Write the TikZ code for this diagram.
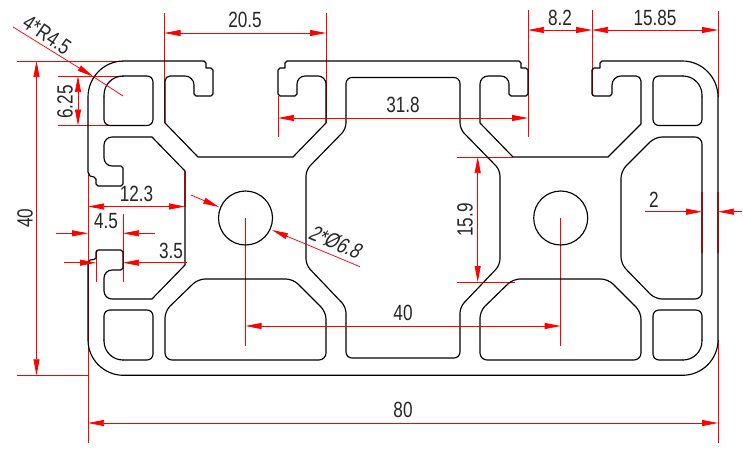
\documentclass[tikz,border=0pt]{standalone}
\usepackage{fontspec}
\setmainfont[FakeStretch=.78]{Liberation Sans}
\newfontfamily\slantfont[FakeStretch=.78,FakeSlant=.2]{Liberation Sans}
\usetikzlibrary{arrows.meta,calc}
\definecolor{dimred}{RGB}{255,0,0}
\definecolor{dimdark}{RGB}{140,20,20}
\newcommand\fil[3]{.. controls ($(#1)!.55!(#2)$) and ($(#3)!.55!(#2)$) .. (#3)}
\tikzset{
  prof/.style={draw=black,line width=1.15pt,line join=round,line cap=round},
  dimln/.style={draw=dimred,line width=.75pt},
  extln/.style={draw=dimred,line width=.75pt},
  extdark/.style={draw=dimdark,line width=1.15pt},
  both/.style={dimln,{Triangle[length=16pt,width=6pt,fill=dimred]}-{Triangle[length=16pt,width=6pt,fill=dimred]}},
  fwd/.style={dimln,-{Triangle[length=16pt,width=6pt,fill=dimred]}},
  lbl/.style={inner sep=0pt,font=\fontsize{22}{22}\selectfont,text=black!85},
  lblit/.style={inner sep=0pt,font=\slantfont\fontsize{22}{22}\selectfont,text=black!85}
}
\begin{document}
\begin{tikzpicture}[x=1pt,y=-1pt]
\useasboundingbox (0,0) rectangle (743,453);
% extension lines
\draw[extln] (17,61)--(123,61);
\draw[extln] (17,375.3)--(88,375.3);
\draw[extln] (58,76)--(123,76);
\draw[extln] (58,125.5)--(123,125.5);
\draw[extln] (164.5,13)--(164.5,123);
\draw[extln] (326,13)--(326,123);
\draw[extln] (278,96)--(278,137);
\draw[extln] (528,10)--(528,137);
\draw[extln] (592,10)--(592,96);
\draw[extln] (718,11)--(718,97);
\draw[extln] (457,157)--(513,157);
\draw[extln] (457,282)--(515,282);
\draw[extln] (123,214)--(123,282);
\draw[extln] (96,250)--(96,282);
\draw[extln] (88,174)--(88,443);
\draw[extln] (718,340)--(718,443);
\draw[extln] (245.5,218)--(245.5,345.5);
\draw[extln] (560.7,218)--(560.7,345.5);
% profile
\draw[prof] (88,97) \fil{88,97}{88,61}{123.5,61} -- (204,61) -- (206,63) -- (206,68) -- (211,68) -- (213,70) -- (213,94) -- (211,96) -- (196,96) -- (194,94) -- (194,85) \fil{194,85}{194,76}{185,76} -- (170,76) \fil{170,76}{165,76}{165,81} -- (165,123) -- (198,157) -- (293,157) -- (326,123) -- (326,84) \fil{326,84}{326,76}{318,76} -- (305,76) \fil{305,76}{297,76}{297,84} -- (297,94) -- (295,96) -- (280,96) -- (278,94) -- (278,70) -- (280,68) -- (285,68) -- (285,63) -- (287,61) -- (519,61) -- (521,63) -- (521,68) -- (526,68) -- (528,70) -- (528,94) -- (526,96) -- (511,96) -- (509,94) -- (509,84) \fil{509,84}{509,76}{501,76} -- (488,76) \fil{488,76}{480,76}{480,84} -- (480,123) -- (513,157) -- (608,157) -- (641,124) -- (641,81) \fil{641,81}{641,76}{636,76} -- (621,76) \fil{621,76}{612,76}{612,85} -- (612,94) -- (610,96) -- (594,96) -- (592,94) -- (592,70) -- (594,68) -- (600,68) -- (600,63) -- (602,61) -- (682.5,61) \fil{682.5,61}{718,61}{718,97} -- (718,340) \fil{718,340}{718,375.3}{682.5,375.3} -- (123.5,375.3) \fil{123.5,375.3}{88,375.3}{88,340} -- (88,264) -- (90,260) -- (94,259.5) -- (96,258) -- (96,252) -- (98,250) -- (121,250) -- (123,252) -- (123,268) -- (121,270) -- (112,270) \fil{112,270}{104,270}{104,278} -- (104,291) \fil{104,291}{104,299}{112,299} -- (152,299) -- (185,265) -- (185,171) -- (152,137) -- (112,137) \fil{112,137}{104,137}{104,145} -- (104,158) \fil{104,158}{104,166}{112,166} -- (121,166) -- (123,168) -- (123,184) -- (121,186) -- (98,186) -- (96,184) -- (96,179) -- (94,177) -- (90,176) -- (88,172) -- cycle;
% corner pockets
\draw[prof,rounded corners=6] (123,76)--(153,76)--(153,125.5)--(104,125.5)--(104,97);
\draw[prof,rounded corners=19] (104,97)--(104,76)--(123,76);
\draw[prof,rounded corners=6] (123,360)--(153,360)--(153,310)--(104,310)--(104,340);
\draw[prof,rounded corners=19] (104,340)--(104,360)--(123,360);
\draw[prof,rounded corners=6] (683,76)--(653,76)--(653,125.5)--(702,125.5)--(702,97);
\draw[prof,rounded corners=19] (702,97)--(702,76)--(683,76);
\draw[prof,rounded corners=6] (683,360)--(653,360)--(653,310)--(702,310)--(702,340);
\draw[prof,rounded corners=19] (702,340)--(702,360)--(683,360);
% centre pocket
\draw[prof,rounded corners=6] (403,77.5)--(460,77.5)--(460,129)--(500,170)--(500,265)--(460,307)--(460,358)--(346,358)--(346,307)--(306,265)--(306,170)--(346,129)--(346,77.5)--cycle;
% bottom pockets
\draw[prof,rounded corners=7] (245,279)--(293,279)--(326,312)--(326,360)--(165,360)--(165,311)--(198,279)--cycle;
\draw[prof,rounded corners=7] (560,279)--(608,279)--(641,312)--(641,360)--(480,360)--(480,311)--(513,279)--cycle;
% right pocket
\draw[prof,rounded corners=7] (702,218)--(702,137)--(655,137)--(621,171)--(621,264)--(655,299)--(702,299)--cycle;
% circles
\node[prof,circle,minimum size=54pt,inner sep=0pt] (holeL) at (245.5,218) {};
\node[prof,circle,minimum size=54pt,inner sep=0pt] (holeR) at (560.7,218) {};
% overlays on the profile
\draw[extdark] (185,171)--(185,207);
\draw[extdark] (702,192)--(702,253);
\draw[extdark] (718,192)--(718,253);
% dimension lines
\draw[both] (36.5,61)--(36.5,375.3);
\draw[both] (78,76)--(78,125.5);
\draw[both] (164.5,33)--(326,33);
\draw[both] (278,118)--(528,118);
\draw[both] (528,30)--(592,30);
\draw[both] (592,30)--(718,30);
\draw[both] (477.7,157)--(477.7,282);
\draw[both] (88,206.5)--(185,206.5);
\draw[both] (245.5,326)--(560.7,326);
\draw[both] (88,423)--(718,423);
\draw[fwd] (56,233.3)--(88,233.3);
\draw[fwd] (155,233.3)--(123,233.3);
\draw[fwd] (64,262.7)--(96,262.7);
\draw[fwd] (187,262.7)--(123,262.7);
\draw[fwd] (645,211.7)--(702,211.7);
\draw[fwd] (742,211.7)--(718,211.7);
\draw[fwd] (13,27)--(93,76.5);
\draw[dimln] (93,76.5)--(123,96);
\draw[fwd] (191,195)--(219,207);
\draw[fwd] (360,266.7)--(272,230);
% labels
\node[lbl] (t80) at (403,410) {80};
\node[lbl] (t40h) at (403,313) {40};
\node[lbl] (t318) at (403,105) {31.8};
\node[lbl] (t205) at (245,20) {20.5};
\node[lbl] (t82) at (560,18) {8.2};
\node[lbl] (t1585) at (655,18) {15.85};
\node[lbl] (t2) at (654,200) {2};
\node[lbl] (t123) at (136.5,194) {12.3};
\node[lbl] (t45) at (106,221) {4.5};
\node[lbl] (t35) at (171,251) {3.5};
\node[lbl,rotate=90] (t40v) at (25,218) {40};
\node[lbl,rotate=90] (t625) at (65,102) {6.25};
\node[lbl,rotate=90] (t159) at (465,220) {15.9};
\node[lbl,rotate=-34] (tR) at (47,35) {4*R4.5};
\node[lblit,rotate=-23] (tD) at (335,242) {2*Ø6.8};
\end{tikzpicture}
\end{document}
